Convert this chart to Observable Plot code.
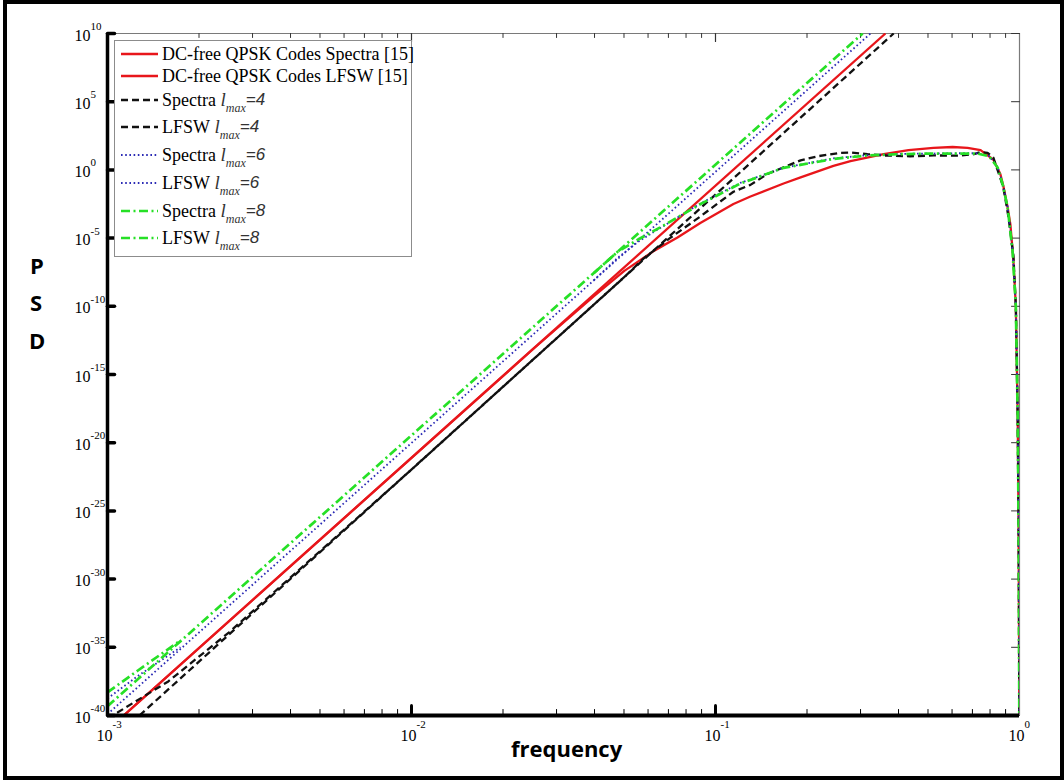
<!DOCTYPE html>
<html>
<head>
<meta charset="utf-8">
<script src="https://cdn.jsdelivr.net/npm/d3@7"></script>
<script src="https://cdn.jsdelivr.net/npm/@observablehq/plot@0.6"></script>
<style>
  html, body { margin: 0; padding: 0; background: #fff; }
  #wrap { position: relative; width: 1064px; height: 780px; overflow: hidden; background: #fff; }
  #frame { position: absolute; left: 3px; top: 0; width: 1061px; height: 780px; border: 4px solid #000; box-sizing: border-box; pointer-events: none; }
  #chart { position: absolute; left: 0; top: 0; }
  .axlab { position: absolute; font-family: "Open Sans", sans-serif; font-weight: bold; font-size: 22px; color: #000; }
  #legend { position: absolute; left: 114px; top: 40px; width: 298px; height: 217px; border: 1px solid #8c8c8c; background: #fff; box-sizing: border-box; }
  .row { position: absolute; left: 6px; height: 22px; display: flex; align-items: center; font-family: "Liberation Serif", serif; font-size: 18px; white-space: nowrap; }
  .row svg { margin-right: 4px; }
  .it { font-style: italic; font-size: 19px; color: #333; }
  .sub { font-style: italic; font-size: 12px; position: relative; top: 8px; font-family: "Liberation Serif", serif; color: #333; }
  .eq { font-style: italic; font-family: "Liberation Sans", sans-serif; font-size: 17px; color: #333; }
</style>
</head>
<body>
<div id="wrap">
  <div id="chart"></div>
  <div id="legend"></div>
  <div class="axlab" style="left:511px; top:733px;">frequency</div>
  <div class="axlab" style="left:30px; top:250px;">P</div>
  <div class="axlab" style="left:30px; top:287px;">S</div>
  <div class="axlab" style="left:29px; top:325px;">D</div>
  <div id="frame"></div>
</div>
<script>
// ---------------- data (log10 values) ----------------
const xTickExps = [-3, -2, -1, 0];
const yTickExps = [10, 5, 0, -5, -10, -15, -20, -25, -30, -35, -40];

// DC-free QPSK codes [15]
const redSpecLogF   = [-2.947, -2.5, -2.0, -1.6, -1.4, -1.3, -1.2, -1.125, -1.05, -0.941, -0.885, -0.776, -0.72, -0.612, -0.556, -0.447, -0.365, -0.283, -0.22, -0.171, -0.128, -0.086, -0.063, -0.053, -0.039, -0.030, -0.020, -0.012, -0.006, -0.003, -0.0015, -0.0005];
const redSpecLogPSD = [-40, -31.08, -21.11, -13.13, -9.25, -7.4, -5.9, -4.96, -3.9, -2.5, -1.95, -1.0, -0.55, 0.3, 0.65, 1.15, 1.45, 1.62, 1.68, 1.62, 1.45, 0.75, -0.3, -1.2, -2.76, -4.0, -6.64, -10, -18, -26, -34, -41];
const redLfswLogF   = [-2.947, -0.441];
const redLfswLogPSD = [-40, 10];

// lmax = 4
const blackSpecLogF   = [-3.0, -2.967, -2.8, -2.6, -2.0, -1.5, -1.3, -1.237, -1.15, -1.049, -0.941, -0.885, -0.829, -0.72, -0.664, -0.589, -0.556, -0.5, -0.447, -0.36, -0.283, -0.2, -0.15, -0.128, -0.105, -0.086, -0.063, -0.053, -0.036, -0.020, -0.012, -0.006, -0.003, -0.0015, -0.0005];
const blackSpecLogPSD = [-40.2, -39.78, -37.5, -33.9, -21.97, -11.89, -7.86, -6.5, -5.0, -3.4, -1.6, -1.1, -0.3, 0.7, 1.0, 1.25, 1.28, 1.15, 1.06, 1.0, 1.06, 1.05, 1.15, 1.3, 1.25, 0.9, -0.6, -1.29, -3.49, -6.3, -10, -18, -26, -34, -41];
const blackLfswLogF   = [-2.895, -0.414];
const blackLfswLogPSD = [-40, 10];

// lmax = 6
const blueSpecLogF   = [-3.0, -2.9, -2.76, -2.5, -2.0, -1.6, -1.4, -1.322, -1.25, -1.181, -1.049, -0.918, -0.776, -0.612, -0.5, -0.4, -0.283, -0.2, -0.138, -0.1, -0.072, -0.055, -0.039, -0.023, -0.012, -0.006, -0.003, -0.0015, -0.0005];
const blueSpecLogPSD = [-38.75, -37.1, -35.0, -29.96, -20.02, -12.07, -8.09, -6.45, -5.2, -4.25, -2.45, -0.95, 0.15, 0.85, 1.08, 1.17, 1.2, 1.22, 1.22, 1.02, 0.2, -1.0, -2.7, -5.9, -10, -18, -26, -34, -41];
const blueLfswLogF   = [-3.0, -0.490];
const blueLfswLogPSD = [-39.9, 10];
const blueSharedLogF = [-2.76, -1.4];   // range where the spectrum lies on its LFSW line

// lmax = 8
const greenSpecLogF   = [-3.0, -2.9, -2.76, -2.5, -2.0, -1.6, -1.4, -1.322, -1.25, -1.181, -1.049, -0.918, -0.776, -0.612, -0.5, -0.4, -0.283, -0.2, -0.138, -0.1, -0.072, -0.055, -0.039, -0.023, -0.012, -0.006, -0.003, -0.0015, -0.0005];
const greenSpecLogPSD = [-38.3, -36.7, -34.5, -29.39, -19.47, -11.53, -7.56, -6.0, -5.05, -4.2, -2.5, -1.0, 0.15, 0.8, 1.06, 1.15, 1.2, 1.2, 1.2, 1.0, 0.18, -1.1, -2.76, -5.91, -10, -18, -26, -34, -41];
const greenLfswLogF   = [-3.0, -0.516];
const greenLfswLogPSD = [-39.32, 10];
const greenSharedLogF = [-2.76, -1.4];

// ---------------- styles ----------------
const RED = "#e8161b", BLACK = "#111111", BLUE = "#2b2bb5", GREEN = "#26e026";
const styles = {
  red:   {stroke: RED, strokeWidth: 2.3, strokeDasharray: null},
  black: {stroke: BLACK, strokeWidth: 2.3, strokeDasharray: "7,4"},
  blue:  {stroke: BLUE, strokeWidth: 1.8, strokeDasharray: "1.6,2.6"},
  green: {stroke: GREEN, strokeWidth: 2.7, strokeDasharray: "9,3.5,2,3.5"}
};

const rows = (lf, lp, shared) => lf.map((v, i) => ({
  f: 10 ** v,
  p: shared && v > shared[0] && v < shared[1] ? NaN : 10 ** lp[i]
}));

const series = [
  {key: "red", data: rows(redSpecLogF, redSpecLogPSD)},
  {key: "red", data: rows(redLfswLogF, redLfswLogPSD)},
  {key: "black", data: rows(blackSpecLogF, blackSpecLogPSD)},
  {key: "black", data: rows(blackLfswLogF, blackLfswLogPSD)},
  {key: "blue", data: rows(blueSpecLogF, blueSpecLogPSD, blueSharedLogF)},
  {key: "blue", data: rows(blueLfswLogF, blueLfswLogPSD)},
  {key: "green", data: rows(greenSpecLogF, greenSpecLogPSD, greenSharedLogF)},
  {key: "green", data: rows(greenLfswLogF, greenLfswLogPSD)}
];

const xMinor = [];
for (const e of [-3, -2, -1]) for (let k = 2; k <= 9; k++) xMinor.push(k * 10 ** e);
const yMajor = yTickExps.map(e => 10 ** e);
const xInnerMajor = [1e-2, 1e-1];

const tickShape = {draw(ctx, l) { ctx.moveTo(0, 0); ctx.lineTo(0, -l); }};

const lineMarks = series.map(s => Plot.line(s.data, {
  x: "f", y: "p",
  stroke: styles[s.key].stroke,
  strokeWidth: styles[s.key].strokeWidth,
  strokeDasharray: styles[s.key].strokeDasharray,
  strokeLinejoin: "round",
  strokeLinecap: "butt",
  clip: true
}));

const chart = Plot.plot({
  width: 1064,
  height: 780,
  marginLeft: 107,
  marginRight: 45,
  marginTop: 33,
  marginBottom: 65,
  style: {fontFamily: "Liberation Serif, serif", background: "transparent", overflow: "visible"},
  x: {type: "log", domain: [1e-3, 1], axis: null},
  y: {type: "log", domain: [1e-40, 1e10], axis: null},
  marks: [
    Plot.ruleY([1e10], {stroke: "#7a7a7a", strokeWidth: 1.2}),
    Plot.ruleX([1], {stroke: "#7a7a7a", strokeWidth: 1.2}),
    Plot.vector(xMinor, {x: d => d, y: () => 1e10, length: 4, rotate: 180, anchor: "start", shape: tickShape, stroke: "#333", strokeWidth: 1}),
    Plot.vector(xInnerMajor, {x: d => d, y: () => 1e10, length: 8, rotate: 180, anchor: "start", shape: tickShape, stroke: "#333", strokeWidth: 1.2}),
    Plot.vector(yMajor, {x: () => 1, y: d => d, length: 8, rotate: -90, anchor: "start", shape: tickShape, stroke: "#333", strokeWidth: 1}),
    ...lineMarks,
    Plot.ruleX([1e-3], {stroke: "#000", strokeWidth: 3.5}),
    Plot.ruleY([1e-40], {stroke: "#000", strokeWidth: 4}),
    Plot.vector(xMinor, {x: d => d, y: () => 1e-40, length: 6, rotate: 0, anchor: "start", shape: tickShape, stroke: "#000", strokeWidth: 1}),
    Plot.vector(xInnerMajor, {x: d => d, y: () => 1e-40, length: 10, rotate: 0, anchor: "start", shape: tickShape, stroke: "#000", strokeWidth: 3, strokeLinecap: "round"}),
    Plot.vector(yMajor, {x: () => 1e-3, y: d => d, length: 7, rotate: 90, anchor: "start", shape: tickShape, stroke: "#000", strokeWidth: 3.5}),
    Plot.text(yTickExps, {x: () => 1e-3, y: e => 10 ** e, text: () => "10", textAnchor: "end", dx: -17, dy: 2, fontSize: 16, fill: "#000"}),
    Plot.text(yTickExps, {x: () => 1e-3, y: e => 10 ** e, text: e => String(e), textAnchor: "start", dx: -17, dy: -7, fontSize: 11, fill: "#000"}),
    Plot.text(xTickExps, {x: e => 10 ** e, y: () => 1e-40, text: () => "10", textAnchor: "end", dx: 5, dy: 20, fontSize: 16, fill: "#000"}),
    Plot.text(xTickExps, {x: e => 10 ** e, y: () => 1e-40, text: e => String(e), textAnchor: "start", dx: 5, dy: 9, fontSize: 11, fill: "#000"})
  ]
});
document.getElementById("chart").appendChild(chart);

// ---------------- legend ----------------
const legendItems = [
  {key: "red", label: "DC-free QPSK Codes Spectra [15]", lmax: null},
  {key: "red", label: "DC-free QPSK Codes LFSW [15]", lmax: null},
  {key: "black", label: "Spectra", lmax: 4},
  {key: "black", label: "LFSW", lmax: 4},
  {key: "blue", label: "Spectra", lmax: 6},
  {key: "blue", label: "LFSW", lmax: 6},
  {key: "green", label: "Spectra", lmax: 8},
  {key: "green", label: "LFSW", lmax: 8}
];
const rowCenters = [13, 35, 59, 86, 114, 142, 170, 197];
const legend = document.getElementById("legend");
legendItems.forEach((it, i) => {
  const st = styles[it.key];
  const row = document.createElement("div");
  row.className = "row";
  row.style.top = (rowCenters[i] - 11) + "px";
  const dash = st.strokeDasharray ? `stroke-dasharray="${st.strokeDasharray}"` : "";
  let html = `<svg width="37" height="8"><line x1="0" y1="4" x2="37" y2="4" stroke="${st.stroke}" stroke-width="${st.strokeWidth}" ${dash}/></svg>`;
  html += `<span>${it.label}</span>`;
  if (it.lmax !== null) {
    html += `&nbsp;<span class="it">l</span><span class="sub">max</span><span class="eq">=${it.lmax}</span>`;
  }
  row.innerHTML = html;
  legend.appendChild(row);
});
</script>
</body>
</html>
